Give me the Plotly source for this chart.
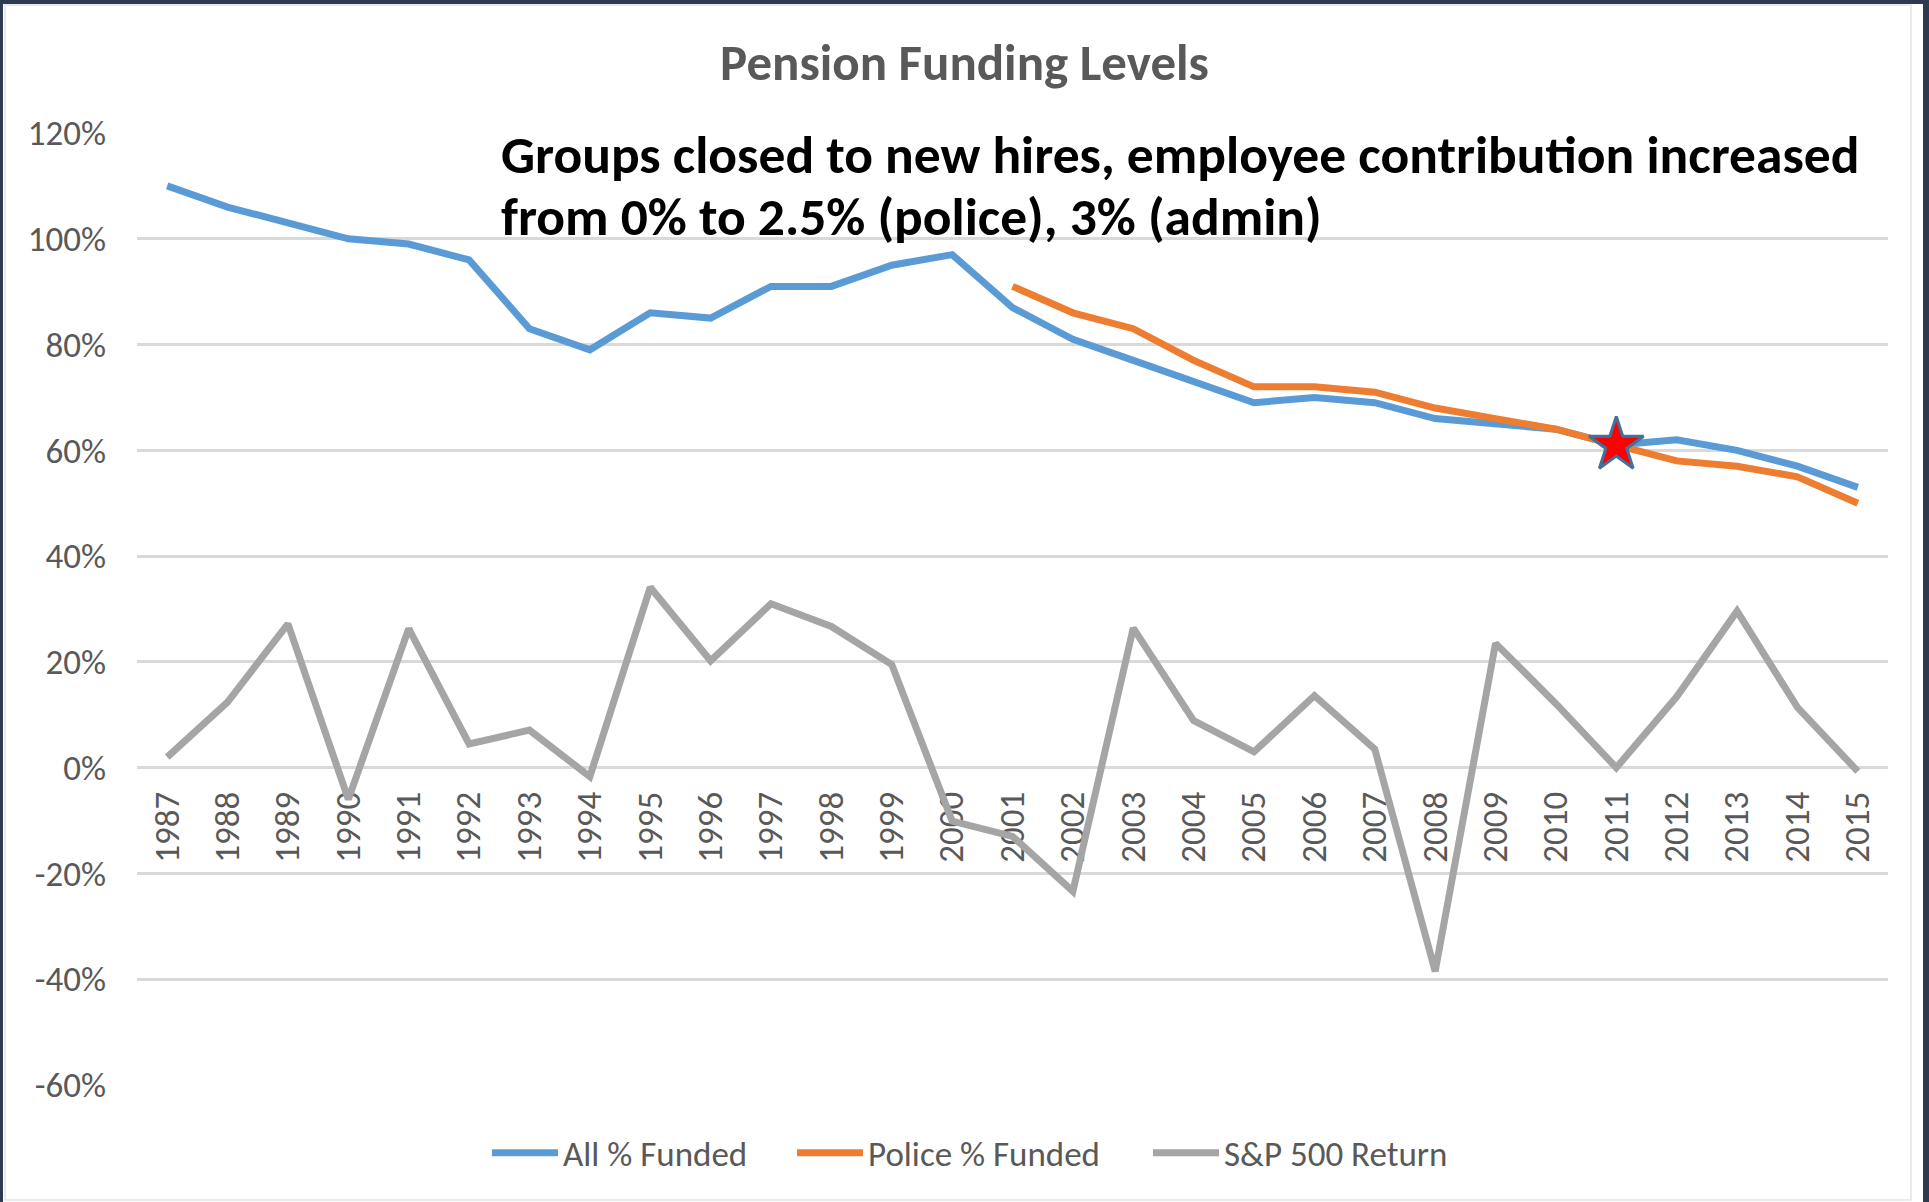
import plotly.graph_objects as go

# ---------------- data ----------------
years = [str(y) for y in range(1987, 2016)]

all_funded = [1.10, 1.06, 1.03, 1.00, 0.99, 0.96, 0.83, 0.79, 0.86, 0.85,
              0.91, 0.91, 0.95, 0.97, 0.87, 0.81, 0.77, 0.73, 0.69, 0.70,
              0.69, 0.66, 0.65, 0.64, 0.61, 0.62, 0.60, 0.57, 0.53]

police_years = [str(y) for y in range(2001, 2016)]
police_funded = [0.91, 0.86, 0.83, 0.77, 0.72, 0.72, 0.71, 0.68, 0.66, 0.64,
                 0.61, 0.58, 0.57, 0.55, 0.50]

sp500_return = [0.020, 0.124, 0.272, -0.060, 0.263, 0.045, 0.071, -0.017, 0.341, 0.202,
                0.310, 0.267, 0.195, -0.101, -0.130, -0.234, 0.264, 0.089, 0.030, 0.136,
                0.035, -0.385, 0.235, 0.121, 0.000, 0.134, 0.296, 0.114, -0.007]

star_year = ["2011"]
star_value = [0.61]

series_names = ["All % Funded", "Police % Funded", "S&P 500 Return"]

y_tickvals = [-0.6, -0.4, -0.2, 0.0, 0.2, 0.4, 0.6, 0.8, 1.0, 1.2]
y_ticktext = ["-60%", "-40%", "-20%", "0%", "20%", "40%", "60%", "80%", "100%", "120%"]

title_text = "Pension Funding Levels"
note_line1 = "Groups closed to new hires, employee contribution increased"
note_line2 = "from 0% to 2.5% (police), 3% (admin)"

# ---------------- styling ----------------
W, H = 1929, 1202
ML, MR, MT, MB = 137, 41, 133, 117
PW = W - ML - MR
PH = H - MT - MB
FONT = "Carlito, Calibri, Lato, sans-serif"
GRAY_TXT = "#595959"
BLUE, ORANGE, GRAY = "#5b9bd5", "#ed7d31", "#a5a5a5"
NAVY = "#2e3a4f"
LW = 7


def px_x(px):
    return (px - ML) / PW


def px_y(py):
    return (H - MB - py) / PH


fig = go.Figure()
fig.add_trace(go.Scatter(x=years, y=all_funded, mode="lines", name=series_names[0],
                         legend="legend", line=dict(color=BLUE, width=LW)))
fig.add_trace(go.Scatter(x=police_years, y=police_funded, mode="lines", name=series_names[1],
                         legend="legend2", line=dict(color=ORANGE, width=LW)))
fig.add_trace(go.Scatter(x=years, y=sp500_return, mode="lines", name=series_names[2],
                         legend="legend3", line=dict(color=GRAY, width=LW)))
fig.add_trace(go.Scatter(x=star_year, y=star_value, mode="markers", showlegend=False,
                         marker=dict(symbol="star", size=41, color="#ff0000",
                                     line=dict(color="#41719c", width=3))))

y_min, y_max = -0.6, 1.2
zero_pos = (0 - y_min) / (y_max - y_min)


def legend_at(symbol_start_px):
    return dict(orientation="h", x=px_x(symbol_start_px - 5), xanchor="left",
                y=px_y(1153), yanchor="middle",
                font=dict(family=FONT, size=35, color=GRAY_TXT),
                bgcolor="rgba(0,0,0,0)", borderwidth=0, itemwidth=66)


fig.update_layout(
    width=W, height=H,
    margin=dict(l=ML, r=MR, t=MT, b=MB, pad=0),
    paper_bgcolor="white", plot_bgcolor="white",
    font=dict(family=FONT, size=35, color=GRAY_TXT),
    title=dict(text="<b>" + title_text + "</b>", x=0.5, xref="container", xanchor="center",
               y=1 - 62 / H, yref="container", yanchor="middle",
               font=dict(family=FONT, size=51, color=GRAY_TXT)),
    xaxis=dict(type="category", categoryorder="array", categoryarray=years,
               range=[-0.5, len(years) - 0.5],
               anchor="free", position=zero_pos, side="bottom",
               showgrid=False, showline=False, zeroline=False, ticks="",
               tickangle=-90, ticklabelstandoff=16, layer="below traces",
               tickfont=dict(family=FONT, size=35, color=GRAY_TXT)),
    yaxis=dict(range=[y_min, y_max], tickvals=y_tickvals, ticktext=y_ticktext,
               showgrid=True, gridcolor="#d9d9d9", gridwidth=2.5,
               zeroline=False, showline=False, ticks="", ticklabelstandoff=30,
               tickfont=dict(family=FONT, size=35, color=GRAY_TXT)),
    legend=legend_at(492),
    legend2=legend_at(797),
    legend3=legend_at(1153),
    showlegend=True,
)

fig.add_annotation(text="<b>" + note_line1 + "</b>", xref="paper", yref="paper",
                   x=px_x(499), y=px_y(154), xanchor="left", yanchor="middle", showarrow=False,
                   font=dict(family=FONT, size=53.5, color="black"))
fig.add_annotation(text="<b>" + note_line2 + "</b>", xref="paper", yref="paper",
                   x=px_x(499), y=px_y(216), xanchor="left", yanchor="middle", showarrow=False,
                   font=dict(family=FONT, size=53.5, color="black"))

# faint chart-area border
fig.add_shape(type="rect", xref="paper", yref="paper", x0=px_x(5), x1=px_x(1911), y0=px_y(1200), y1=px_y(5),
              line=dict(color="#e3e3e3", width=1.5), fillcolor="rgba(0,0,0,0)", layer="below")
# dark slide frame on top, left and right edges
fig.add_shape(type="rect", xref="paper", yref="paper", x0=px_x(0), x1=px_x(W), y0=px_y(4), y1=px_y(0),
              fillcolor=NAVY, line_width=0, layer="above")
fig.add_shape(type="rect", xref="paper", yref="paper", x0=px_x(0), x1=px_x(3), y0=px_y(H), y1=px_y(0),
              fillcolor=NAVY, line_width=0, layer="above")
fig.add_shape(type="rect", xref="paper", yref="paper", x0=px_x(W - 6), x1=px_x(W), y0=px_y(H), y1=px_y(0),
              fillcolor=NAVY, line_width=0, layer="above")

fig.write_html("out.html", config={"displayModeBar": False},
               post_script="document.body.style.margin='0px';")
